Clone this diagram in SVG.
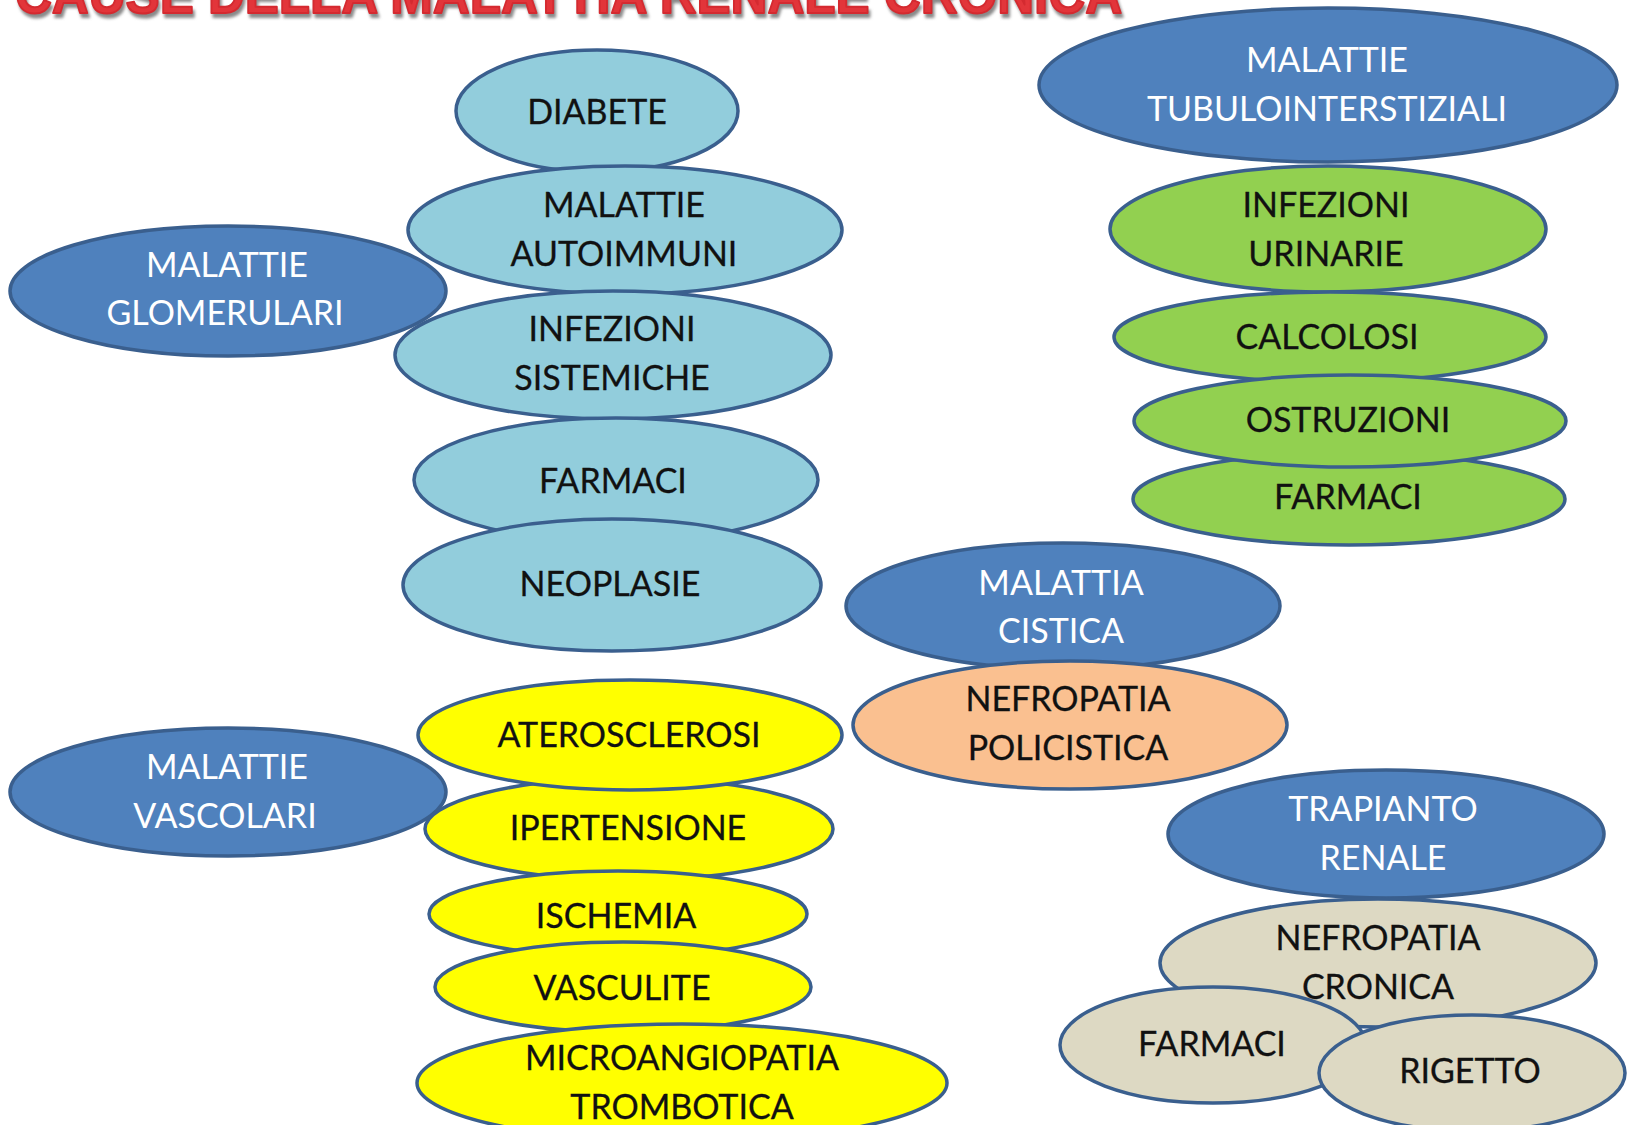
<svg xmlns="http://www.w3.org/2000/svg" width="1627" height="1125" viewBox="0 0 1627 1125">
  <defs>
    <style>
      .n ellipse { stroke: #3A5F8E; stroke-width: 3.5; }
      .lb { fill: #92CDDC; }
      .db { fill: #4F81BD; }
      .gr { fill: #92D050; }
      .ye { fill: #FFFF00; }
      .pe { fill: #FAC090; }
      .tn { fill: #DDD9C3; }
      text { font-family: Lato, "Open Sans", "Liberation Sans", sans-serif; font-size: 34px; text-anchor: middle; }
      .dk { fill: #111111; stroke: #111111; stroke-width: 0.3; }
      .wt { fill: #FFFFFF; }
      .title { font-family: "Liberation Sans", Arial, sans-serif; font-weight: bold; font-size: 56px; text-anchor: start; stroke-width: 2; stroke-linejoin: round; }
    </style>
    <filter id="soft" x="-5%" y="-50%" width="110%" height="200%">
      <feGaussianBlur stdDeviation="1.5"/>
    </filter>
  </defs>
  <rect width="1627" height="1125" fill="#FFFFFF"/>

  <!-- title, partly above the top edge -->
  <g id="title">
    <text class="title" x="17" y="17" textLength="1107" lengthAdjust="spacingAndGlyphs" fill="#8A8A8A" stroke="#8A8A8A" filter="url(#soft)">CAUSE DELLA MALATTIA RENALE CRONICA</text>
    <text class="title" x="15" y="13" textLength="1107" lengthAdjust="spacingAndGlyphs" fill="#E2353A" stroke="#D42A30">CAUSE DELLA MALATTIA RENALE CRONICA</text>
  </g>

  <!-- glomerular causes -->
  <g id="diabete" class="n"><ellipse class="lb" cx="597" cy="111" rx="141" ry="61"/><text class="dk" x="597" y="124">DIABETE</text></g>
  <g id="autoimmuni" class="n"><ellipse class="lb" cx="625" cy="230" rx="217" ry="64"/><text class="dk" x="624" y="217">MALATTIE</text><text class="dk" x="624" y="266">AUTOIMMUNI</text></g>
  <g id="infezioni-sistemiche" class="n"><ellipse class="lb" cx="613" cy="355" rx="218" ry="64"/><text class="dk" x="612" y="341">INFEZIONI</text><text class="dk" x="612" y="390">SISTEMICHE</text></g>
  <g id="farmaci-glom" class="n"><ellipse class="lb" cx="616" cy="480" rx="202" ry="62"/><text class="dk" x="613" y="493">FARMACI</text></g>
  <g id="neoplasie" class="n"><ellipse class="lb" cx="612" cy="585" rx="209" ry="66"/><text class="dk" x="610" y="596">NEOPLASIE</text></g>
  <g id="glomerulari" class="n"><ellipse class="db" cx="228" cy="291" rx="218" ry="65"/><text class="wt" x="227" y="277">MALATTIE</text><text class="wt" x="225" y="325">GLOMERULARI</text></g>

  <!-- vascular causes -->
  <g id="ipertensione" class="n"><ellipse class="ye" cx="629" cy="829" rx="204" ry="51"/><text class="dk" x="628" y="840">IPERTENSIONE</text></g>
  <g id="aterosclerosi" class="n"><ellipse class="ye" cx="630" cy="735" rx="212" ry="55"/><text class="dk" x="629" y="747">ATEROSCLEROSI</text></g>
  <g id="ischemia" class="n"><ellipse class="ye" cx="618" cy="914" rx="189" ry="43"/><text class="dk" x="616" y="928">ISCHEMIA</text></g>
  <g id="vasculite" class="n"><ellipse class="ye" cx="623" cy="987" rx="188" ry="45"/><text class="dk" x="622" y="1000">VASCULITE</text></g>
  <g id="microangiopatia" class="n"><ellipse class="ye" cx="682" cy="1083" rx="265" ry="59"/><text class="dk" x="682" y="1070">MICROANGIOPATIA</text><text class="dk" x="682" y="1119">TROMBOTICA</text></g>
  <g id="vascolari" class="n"><ellipse class="db" cx="228" cy="792" rx="218" ry="64"/><text class="wt" x="227" y="779">MALATTIE</text><text class="wt" x="225" y="828">VASCOLARI</text></g>

  <!-- tubulointerstitial causes -->
  <g id="tubulointerstiziali" class="n"><ellipse class="db" cx="1328" cy="85" rx="289" ry="77"/><text class="wt" x="1327" y="72">MALATTIE</text><text class="wt" x="1327" y="121">TUBULOINTERSTIZIALI</text></g>
  <g id="infezioni-urinarie" class="n"><ellipse class="gr" cx="1328" cy="229" rx="218" ry="63"/><text class="dk" x="1326" y="217">INFEZIONI</text><text class="dk" x="1326" y="266">URINARIE</text></g>
  <g id="calcolosi" class="n"><ellipse class="gr" cx="1330" cy="337" rx="216" ry="45"/><text class="dk" x="1327" y="349">CALCOLOSI</text></g>
  <g id="farmaci-tub" class="n"><ellipse class="gr" cx="1349" cy="499" rx="216" ry="46"/><text class="dk" x="1348" y="509">FARMACI</text></g>
  <g id="ostruzioni" class="n"><ellipse class="gr" cx="1350" cy="421" rx="216" ry="46"/><text class="dk" x="1348" y="432">OSTRUZIONI</text></g>

  <!-- cystic disease -->
  <g id="cistica" class="n"><ellipse class="db" cx="1063" cy="606" rx="217" ry="63"/><text class="wt" x="1061" y="595">MALATTIA</text><text class="wt" x="1061" y="643">CISTICA</text></g>
  <g id="policistica" class="n"><ellipse class="pe" cx="1070" cy="725" rx="217" ry="64"/><text class="dk" x="1068" y="711">NEFROPATIA</text><text class="dk" x="1068" y="760">POLICISTICA</text></g>

  <!-- transplant -->
  <g id="trapianto" class="n"><ellipse class="db" cx="1386" cy="834" rx="218" ry="64"/><text class="wt" x="1383" y="821">TRAPIANTO</text><text class="wt" x="1383" y="870">RENALE</text></g>
  <g id="nefropatia-cronica" class="n"><ellipse class="tn" cx="1378" cy="963" rx="218" ry="64"/><text class="dk" x="1378" y="950">NEFROPATIA</text><text class="dk" x="1378" y="999">CRONICA</text></g>
  <g id="farmaci-trap" class="n"><ellipse class="tn" cx="1213" cy="1045" rx="153" ry="58"/><text class="dk" x="1212" y="1056">FARMACI</text></g>
  <g id="rigetto" class="n"><ellipse class="tn" cx="1472" cy="1073" rx="153" ry="58"/><text class="dk" x="1470" y="1083">RIGETTO</text></g>

  <!-- no connectors in this figure -->
  <g id="connectors"/>
</svg>
